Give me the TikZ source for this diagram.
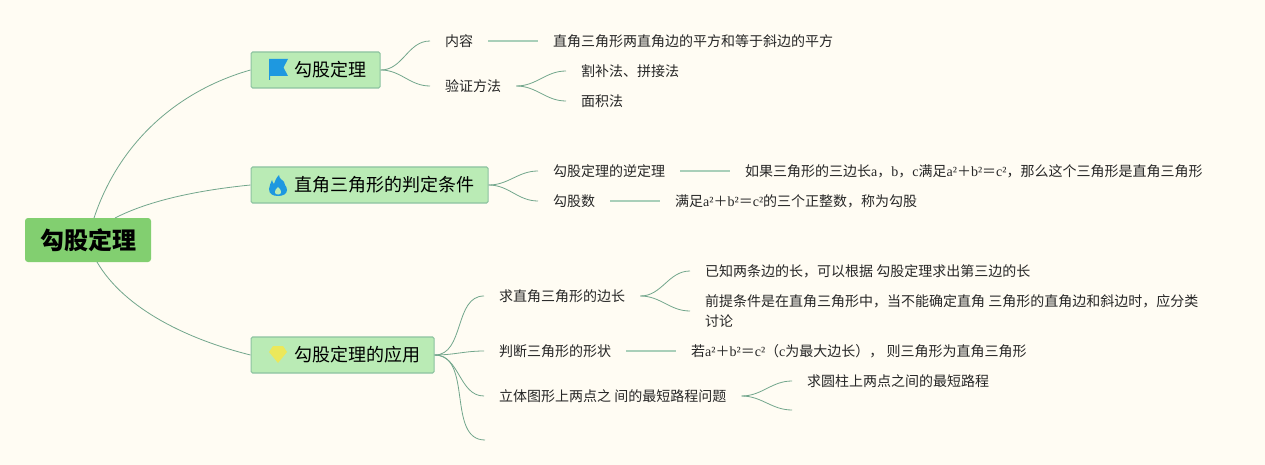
\documentclass[tikz,border=0pt]{standalone}
\usepackage{fontspec}
\setmainfont{Noto Sans CJK SC}
\newfontfamily\latinserif{Liberation Serif}
\newcommand{\lt}[1]{{\latinserif #1}}
\newcommand{\toptxt}[1]{\hspace*{29pt}\raisebox{-1pt}{#1}}
\usetikzlibrary{positioning,calc}
\definecolor{paper}{HTML}{FFFCF3}
\definecolor{boxfill}{HTML}{BAEBB5}
\definecolor{boxline}{HTML}{8CC3A0}
\definecolor{rootfill}{HTML}{82CF70}
\definecolor{curveline}{HTML}{72A68C}
\definecolor{paleline}{HTML}{A9CFB9}
\definecolor{iconblue}{HTML}{1E98E0}
\definecolor{iconyellow}{HTML}{ECE85A}

\begin{document}
\begin{tikzpicture}[
    x=1pt, y=-1pt,
    root/.style={rectangle, rounded corners=3pt, fill=rootfill, minimum width=126pt, minimum height=44pt, inner sep=0pt, font=\fontsize{24}{24}\selectfont\bfseries},
    topic/.style={rectangle, rounded corners=1.5pt, draw=boxline, line width=1.2pt, fill=boxfill, anchor=west, minimum height=36pt, inner xsep=14pt, inner ysep=0pt, font=\fontsize{18}{18}\selectfont},
    leaf/.style={anchor=west, inner xsep=15pt, inner ysep=2pt, text=black!85, font=\fontsize{14}{20}\selectfont},
    curve/.style={draw=curveline, line width=0.8pt},
    bar/.style={draw=paleline, line width=1.2pt},
    icon/.style={fill=iconblue, draw=none}
]

% Page
\useasboundingbox (0,0) rectangle (1265,465);
\fill[paper] (0,0) rectangle (1265,465);

% Root and main topics
\node[root] (root) at (88,240) {\raisebox{-1pt}{勾股定理}};
\node[topic] (proof) at (250.5,70) {\toptxt{勾股定理}};
\node[topic] (judge) at (250.5,185) {\toptxt{直角三角形的判定条件}};
\node[topic] (apply) at (250.5,355) {\toptxt{勾股定理的应用}};

% Icons
\fill[icon] (269,59) -- (288,59) -- (283.5,67.5) -- (288,76) -- (270,76) -- (270,80) -- (269,80) -- cycle;
\fill[icon] (279,175) .. controls (279,179) and (283,180) .. (284,182)
    .. controls (284.5,183) and (285,184) .. (285,185)
    .. controls (286,186) and (287,188) .. (287,190)
    .. controls (287,194) and (283,196) .. (278,196)
    .. controls (273,196) and (269,194) .. (269,189)
    .. controls (269,186) and (271,183) .. (272,180)
    .. controls (272.5,182) and (273,183) .. (274,184)
    .. controls (275,181) and (276,178) .. (279,175) -- cycle;
\fill[boxfill] (278,187) .. controls (280,189) and (282,191) .. (281,193)
    .. controls (280,195) and (276,195) .. (275,193)
    .. controls (274,191) and (276,189) .. (278,187) -- cycle;
\fill[iconyellow] (273,346) -- (283,346) -- (287,352) -- (278,363) -- (269,352) -- cycle;

% Leaves of the first topic
\node[leaf] (content) at (430,41) {内容};
\node[leaf] (contenttxt) at (538,41) {直角三角形两直角边的平方和等于斜边的平方};
\node[leaf] (verify) at (430,86) {验证方法};
\node[leaf] (cut) at (566,71) {割补法、拼接法};
\node[leaf] (area) at (566,101) {面积法};

% Leaves of the second topic
\node[leaf] (inverse) at (538,171) {勾股定理的逆定理};
\node[leaf] (inversetxt) at (730,171) {如果三角形的三边长\lt{a}，\lt{b}，\lt{c}满足\lt{a²}＋\lt{b²}＝\lt{c²}，那么这个三角形是直角三角形};
\node[leaf] (triple) at (538,201) {勾股数};
\node[leaf] (tripletxt) at (660,201) {满足\lt{a²}＋\lt{b²}＝\lt{c²}的三个正整数，称为勾股};

% Leaves of the third topic
\node[leaf] (sides) at (484,296) {求直角三角形的边长};
\node[leaf] (known) at (690,271) {已知两条边的长，可以根据 勾股定理求出第三边的长};
\node[leaf, align=left] (premise) at (690,311) {前提条件是在直角三角形中，当不能确定直角 三角形的直角边和斜边时，应分类\\讨论};
\node[leaf] (shape) at (484,351) {判断三角形的形状};
\node[leaf] (shapetxt) at (676,351) {若\lt{a²}＋\lt{b²}＝\lt{c²}（\lt{c}为最大边长）， 则三角形为直角三角形};
\node[leaf] (path) at (484,396) {立体图形上两点之 间的最短路程问题};
\node[leaf] (cylinder) at (792,381) {求圆柱上两点之间的最短路程};
\coordinate (pathend) at (792,410);
\coordinate (applyend) at (485,440);

% Free ends on the root
\coordinate (rootup) at (94,218);
\coordinate (rootmid) at (115,218);
\coordinate (rootdown) at (97,262);

% Curves
\draw[curve] (rootup) .. controls (120,140) and (180,90) .. (proof.west);
\draw[curve] (rootmid) .. controls (150,200) and (200,190) .. (judge.west);
\draw[curve] (rootdown) .. controls (125,310) and (190,340) .. (apply.west);
\foreach \from/\to in {proof/content, proof/verify, judge/inverse, judge/triple, apply/sides, apply/shape, apply/path, verify/cut, verify/area, sides/known, sides/premise, path/cylinder}
    \draw[curve] (\from.east) to[out=0, in=180] (\to.west);
\draw[curve] (path.east) to[out=0, in=180] (pathend);
\draw[curve] (apply.east) to[out=0, in=180] (applyend);

% Straight links
\foreach \from/\to in {content/contenttxt, inverse/inversetxt, triple/tripletxt, shape/shapetxt}
    \draw[bar] (\from.east) -- (\to.west);

\end{tikzpicture}
\end{document}
